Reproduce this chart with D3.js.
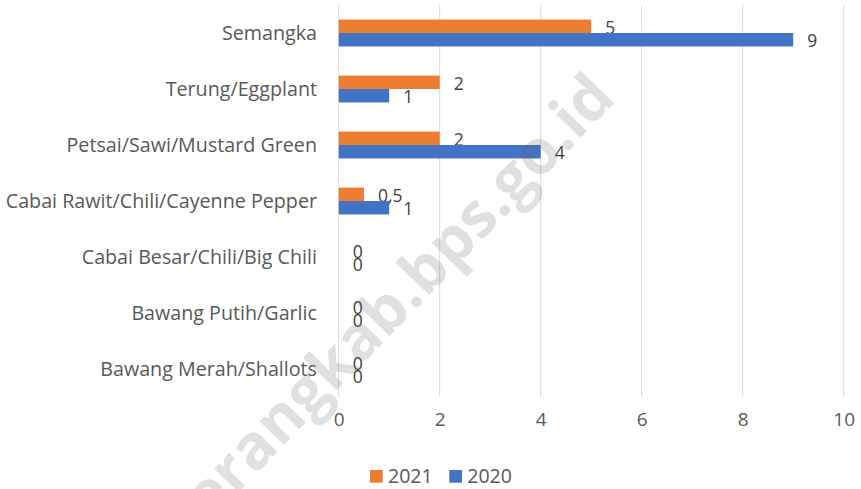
<!DOCTYPE html>
<html>
<head>
<meta charset="utf-8">
<script src="https://cdn.jsdelivr.net/npm/d3@7/dist/d3.min.js"></script>
<style>
  html, body { margin: 0; padding: 0; background: #fff; }
  svg { display: block; font-family: "Open Sans", sans-serif; }
</style>
</head>
<body>
<svg id="chart" width="861" height="489"></svg>
<script>
const categories = [
  "Semangka",
  "Terung/Eggplant",
  "Petsai/Sawi/Mustard Green",
  "Cabai Rawit/Chili/Cayenne Pepper",
  "Cabai Besar/Chili/Big Chili",
  "Bawang Putih/Garlic",
  "Bawang Merah/Shallots"
];
const seriesNames = ["2021", "2020"];
const values2021 = [5, 2, 2, 0.5, 0, 0, 0];
const values2020 = [9, 1, 4, 1, 0, 0, 0];
const colors = ["#ED7D31", "#4472C4"];
const xTicks = [0, 2, 4, 6, 8, 10];
const watermark = "serangkab.bps.go.id";

const seriesValues = [values2021, values2020];
const svg = d3.select("#chart");
const textColor = "#595959";

const x = d3.scaleLinear().domain([0, 10]).range([338.7, 843.7]);
const y = d3.scaleBand().domain(categories).range([5, 397]).paddingInner(0.52).paddingOuter(0.26);
const ySub = d3.scaleBand().domain(seriesNames).range([0, y.bandwidth()]);

// gridlines
svg.append("g").selectAll("line").data(xTicks).join("line")
  .attr("x1", d => x(d)).attr("x2", d => x(d))
  .attr("y1", 5).attr("y2", 397)
  .attr("stroke", "#d9d9d9").attr("stroke-width", 1);

// x tick labels
const xAxis = d3.axisBottom(x).tickValues(xTicks).tickSize(0).tickPadding(0).tickFormat(d3.format("d"));
const gx = svg.append("g").attr("transform", "translate(0,412)").call(xAxis);
gx.select(".domain").remove();
gx.selectAll("text").attr("font-size", 19).attr("font-family", "Open Sans").attr("fill", textColor).attr("dy", "0.71em");

// category labels
const yAxis = d3.axisLeft(y).tickSize(0).tickPadding(0);
const gy = svg.append("g").attr("transform", "translate(317,0)").call(yAxis);
gy.select(".domain").remove();
gy.selectAll("text").attr("font-size", 19.7).attr("font-family", "Open Sans").attr("fill", textColor).attr("dy", "0.34em").attr("x", 0);

// bars
const groups = svg.append("g").selectAll("g").data(seriesNames).join("g")
  .attr("fill", (d, i) => colors[i]);
groups.selectAll("rect").data((s, i) => categories.map((c, j) => ({c, s, v: seriesValues[i][j]})))
  .join("rect")
  .attr("x", x(0))
  .attr("y", d => y(d.c) + ySub(d.s))
  .attr("width", d => x(d.v) - x(0))
  .attr("height", ySub.bandwidth());

// data labels
const fmt = v => String(v).replace(".", ",");
groups.selectAll("text").data((s, i) => categories.map((c, j) => ({c, s, v: seriesValues[i][j]})))
  .join("text")
  .attr("x", d => x(d.v) + 14)
  .attr("y", d => y(d.c) + ySub(d.s) + ySub.bandwidth() / 2 + 7.3)
  .attr("font-size", 17.5)
  .attr("fill", "#404040")
  .text(d => fmt(d.v));

// legend
const legend = svg.append("g");
const legendItems = [{name: seriesNames[0], x: 370}, {name: seriesNames[1], x: 449.3}];
legendItems.forEach((it, i) => {
  legend.append("rect").attr("x", it.x).attr("y", 470).attr("width", 12.7).attr("height", 12.7).attr("fill", colors[i]);
  legend.append("text").attr("x", it.x + 18).attr("y", 483.3).attr("font-size", 19.5).attr("fill", textColor).text(it.name);
});

// watermark
svg.append("text")
  .attr("transform", "translate(403,322) rotate(-46)")
  .attr("text-anchor", "middle")
  .attr("font-size", 62)
  .attr("font-weight", "bold")
  .attr("fill", "#646464")
  .attr("fill-opacity", 0.2)
  .text(watermark);
</script>
</body>
</html>
